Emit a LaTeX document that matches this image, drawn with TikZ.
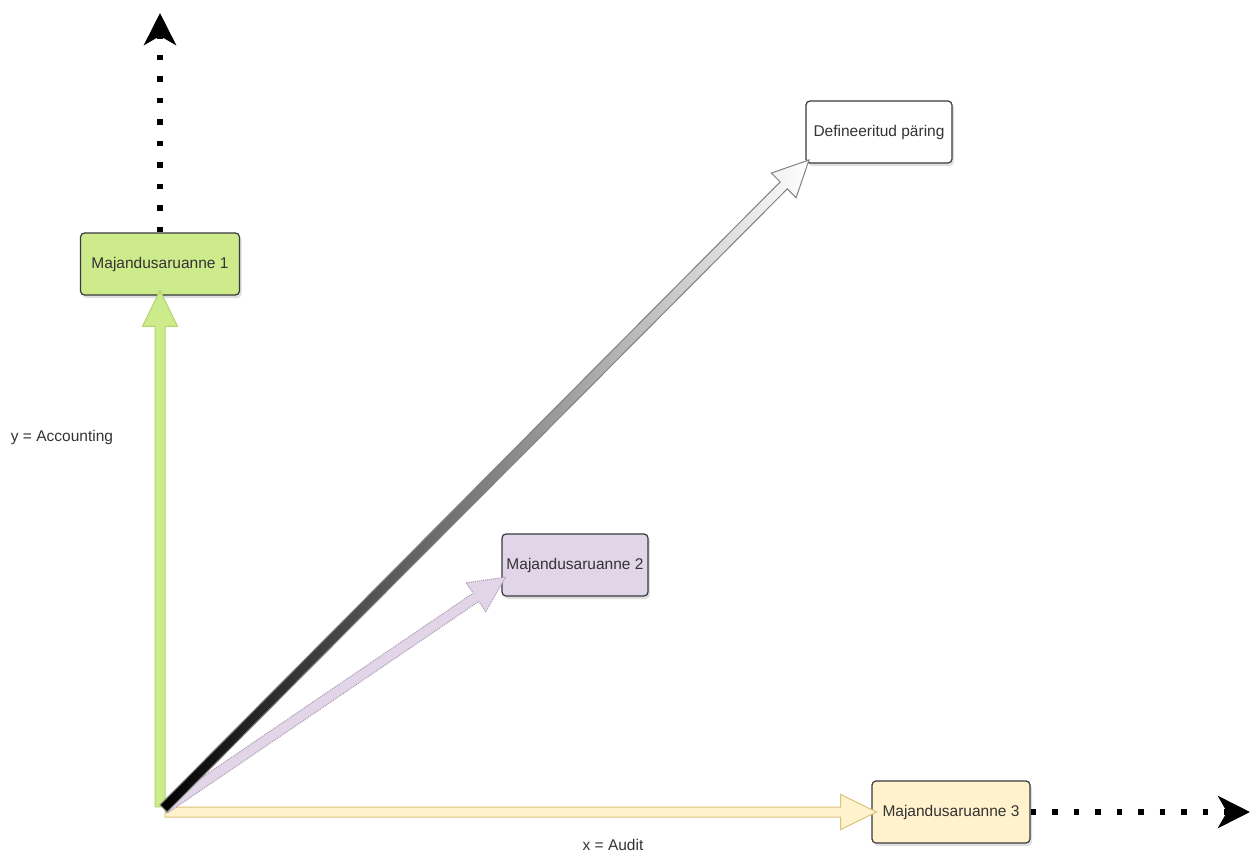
\documentclass[tikz,border=0pt]{standalone}
\usepackage{fontspec}
\setmainfont{Liberation Sans}
\usetikzlibrary{arrows.meta,shapes.arrows,shadows,calc}

\definecolor{boxline}{HTML}{36393D}
\definecolor{greenfill}{HTML}{CDEB8B}
\definecolor{greenline}{HTML}{B0D46A}
\definecolor{yellowfill}{HTML}{FFF2CC}
\definecolor{yellowline}{HTML}{DCC27A}
\definecolor{lilacfill}{HTML}{E1D5E7}
\definecolor{lilacline}{HTML}{A99BB3}

\tikzset{box/.style = {draw=boxline, rounded corners=4pt, line width=1.2pt,
                       minimum height=62pt, inner sep=2pt, text=black!80,
                       drop shadow={shadow xshift=2pt, shadow yshift=-3pt, opacity=.25}},
         fatarrow/.style = {single arrow, single arrow tip angle=52,
                            single arrow head extend=12.5pt, single arrow head indent=0pt,
                            inner xsep=0pt, inner ysep=4.5pt, minimum width=0pt,
                            line width=1pt},
         dotarrow/.style = {line width=5.5pt, dash pattern=on 5.5pt off 16pt,
                            -{Stealth[length=32pt,width=32pt,inset=9pt]}}}

% block arrow from #1 to #2
\newcommand{\fatarrowto}[3]{%
  \path let \p1=($(#2)-(#1)$), \n1={atan2(\y1,\x1)}, \n2={veclen(\x1,\y1)} in
    node[fatarrow,#3,rotate=\n1,minimum height=\n2] at ($(#1)!.5!(#2)$) {};}

\begin{document}
\begin{tikzpicture}[x=1pt,y=-1pt,font=\fontsize{15.5}{18}\selectfont]
\useasboundingbox (0,0) rectangle (1251,854);

\coordinate (o) at (160,812);
\coordinate (ytop) at (160,13);
\coordinate (xend) at (1250,812);

\node[box, fill=greenfill, minimum width=159pt]  (mr1) at (160,264) {Majandusaruanne 1};
\node[box, fill=lilacfill, minimum width=146pt]  (mr2) at (575,565) {Majandusaruanne 2};
\node[box, fill=yellowfill, minimum width=158pt] (mr3) at (951,812) {Majandusaruanne 3};
\node[box, fill=white, minimum width=146pt]      (dp)  at (879,132) {Defineeritud päring};

\fatarrowto{o}{mr1.south}{fill=greenfill, draw=greenline}
\fatarrowto{o}{mr3.west}{fill=yellowfill, draw=yellowline}
\fatarrowto{o}{[yshift=-15pt]mr2.west}{fill=lilacfill, draw=lilacline, densely dotted}
\fatarrowto{o}{dp.south west}{left color=black, right color=white, draw=gray}

\draw[dotarrow] (mr1.north) -- (ytop);
\draw[dotarrow] (mr3.east) -- (xend);

\node[text=black!80] (ylab) at (62,437) {y = Accounting};
\node[text=black!80] (xlab) at (613,845) {x = Audit};
\end{tikzpicture}
\end{document}
